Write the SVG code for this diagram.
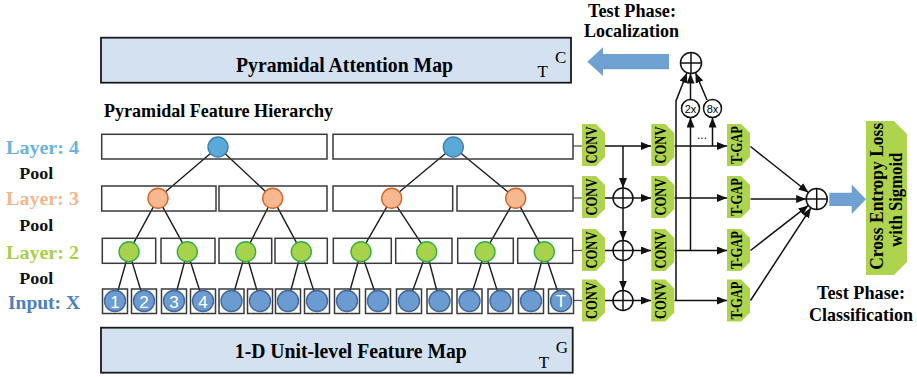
<svg xmlns="http://www.w3.org/2000/svg" xmlns:xlink="http://www.w3.org/1999/xlink" width="917" height="377" viewBox="0 0 917 377">
<style>
.t{font-family:"Liberation Serif","Times New Roman",serif;font-weight:bold;}
.r{font-family:"Liberation Serif","Times New Roman",serif;}
.s{font-family:"Liberation Sans",Arial,sans-serif;}
.box{fill:none;stroke:#3a3a3a;stroke-width:1.5;}
.map{fill:#d3e1f1;stroke:#1a1a1a;stroke-width:1.8;}
.tl{stroke:#1a1a1a;stroke-width:1.4;fill:none;}
.ln{stroke:#111;stroke-width:1.5;fill:none;}
.ar{stroke:#111;stroke-width:1.5;fill:none;marker-end:url(#ah);}
.gl{stroke:#555;stroke-width:1.3;}
.c4{fill:#5aaad8;stroke:#3b7fb4;stroke-width:1.4;}
.c3{fill:#f7b88f;stroke:#d0642a;stroke-width:1.4;}
.c2{fill:#a8d24b;stroke:#2fb041;stroke-width:1.4;}
.c1{fill:#6b9bd0;stroke:#41699c;stroke-width:1.4;}
.grn{fill:#aed44e;}
.pl{fill:#fff;stroke:#111;stroke-width:1.5;}
.blue{fill:#6fa1d2;}
.num{font-family:"Liberation Sans",Arial,sans-serif;fill:#fff;font-size:17px;text-anchor:middle;}
.cv{font-family:"Liberation Serif","Times New Roman",serif;font-weight:bold;font-size:17px;text-anchor:middle;}
</style>
<defs>
<marker id="ah" viewBox="0 0 10 8" refX="10" refY="4" markerWidth="10" markerHeight="8" markerUnits="userSpaceOnUse" orient="auto"><path d="M0,0 L10,4 L0,8 z" fill="#111"/></marker>
<path id="tag" d="M0,0 H14 L23,9 V33 L14,42 H0 Z"/>
</defs>

<!-- maps -->
<g id="attentionMap">
<rect class="map" x="101" y="37.7" width="470" height="45"/>
<text class="t" x="344.5" y="72" font-size="20.5" text-anchor="middle" textLength="217" lengthAdjust="spacingAndGlyphs">Pyramidal Attention Map</text>
<text class="r" x="542.7" y="77" font-size="17" text-anchor="middle">T</text>
<text class="r" x="560.7" y="63" font-size="17" text-anchor="middle">C</text>
</g>
<g id="featureMap">
<rect class="map" x="101" y="327.7" width="471.7" height="45"/>
<text class="t" x="350.8" y="358" font-size="20.5" text-anchor="middle" textLength="232" lengthAdjust="spacingAndGlyphs">1-D Unit-level Feature Map</text>
<text class="r" x="544" y="368" font-size="17" text-anchor="middle">T</text>
<text class="r" x="562" y="353" font-size="17" text-anchor="middle">G</text>
</g>
<text class="t" x="104" y="117" font-size="19.5" textLength="229" lengthAdjust="spacingAndGlyphs">Pyramidal Feature Hierarchy</text>

<!-- left labels -->
<g id="labels" class="t" text-anchor="middle">
<text x="42.5" y="154" font-size="19" fill="#6bb3df" textLength="73" lengthAdjust="spacingAndGlyphs">Layer: 4</text>
<text x="36.3" y="179" font-size="17.5" fill="#111" textLength="34" lengthAdjust="spacingAndGlyphs">Pool</text>
<text x="42.5" y="205" font-size="19" fill="#f6b68c" textLength="73" lengthAdjust="spacingAndGlyphs">Layer: 3</text>
<text x="36.3" y="231" font-size="17.5" fill="#111" textLength="34" lengthAdjust="spacingAndGlyphs">Pool</text>
<text x="42.5" y="258.5" font-size="19" fill="#a7cf48" textLength="73" lengthAdjust="spacingAndGlyphs">Layer: 2</text>
<text x="36.3" y="284" font-size="17.5" fill="#111" textLength="34" lengthAdjust="spacingAndGlyphs">Pool</text>
<text x="44" y="309" font-size="19" fill="#4a80c2" textLength="72" lengthAdjust="spacingAndGlyphs">Input: X</text>
</g>

<!-- connectors -->
<g id="connectors">
<g class="tl">
<line x1="218" y1="147" x2="158" y2="198.3"/><line x1="218" y1="147" x2="272.7" y2="198.3"/>
<line x1="453.3" y1="147" x2="391.7" y2="198.3"/><line x1="453.3" y1="147" x2="515.7" y2="198.3"/>
<line x1="158" y1="198.3" x2="129" y2="251.7"/><line x1="158" y1="198.3" x2="187.3" y2="251.7"/>
<line x1="272.7" y1="198.3" x2="245.7" y2="251.7"/><line x1="272.7" y1="198.3" x2="301.3" y2="251.7"/>
<line x1="391.7" y1="198.3" x2="361" y2="251.7"/><line x1="391.7" y1="198.3" x2="426.7" y2="251.7"/>
<line x1="515.7" y1="198.3" x2="485" y2="251.7"/><line x1="515.7" y1="198.3" x2="544.3" y2="251.7"/>
<line x1="129" y1="251.7" x2="115" y2="301"/><line x1="129" y1="251.7" x2="144" y2="301"/>
<line x1="187.3" y1="251.7" x2="174" y2="301"/><line x1="187.3" y1="251.7" x2="203" y2="301"/>
<line x1="245.7" y1="251.7" x2="231.5" y2="301"/><line x1="245.7" y1="251.7" x2="260" y2="301"/>
<line x1="301.3" y1="251.7" x2="288" y2="301"/><line x1="301.3" y1="251.7" x2="317" y2="301"/>
<line x1="361" y1="251.7" x2="347" y2="301"/><line x1="361" y1="251.7" x2="378" y2="301"/>
<line x1="426.7" y1="251.7" x2="409" y2="301"/><line x1="426.7" y1="251.7" x2="439.5" y2="301"/>
<line x1="485" y1="251.7" x2="469.5" y2="301"/><line x1="485" y1="251.7" x2="500.5" y2="301"/>
<line x1="544.3" y1="251.7" x2="531" y2="301"/><line x1="544.3" y1="251.7" x2="561" y2="301"/>
</g>
<g class="gl">
<line x1="573" y1="146" x2="582" y2="146"/>
<line x1="573" y1="198" x2="582" y2="198"/>
<line x1="573" y1="250.5" x2="582" y2="250.5"/>
<line x1="573" y1="300.5" x2="582" y2="300.5"/>
</g>
<line class="ar" x1="605" y1="146" x2="651" y2="146"/>
<line class="ar" x1="605" y1="198" x2="651" y2="198"/>
<line class="ar" x1="605" y1="250.5" x2="651" y2="250.5"/>
<line class="ar" x1="605" y1="300.5" x2="651" y2="300.5"/>
<line class="ar" x1="623" y1="146" x2="623" y2="188"/>
<line class="ar" x1="623" y1="208" x2="623" y2="240.5"/>
<line class="ar" x1="623" y1="260.5" x2="623" y2="290.5"/>
<line class="ar" x1="674.5" y1="146" x2="727" y2="146"/>
<line class="ar" x1="674.5" y1="198" x2="727" y2="198"/>
<line class="ar" x1="674.5" y1="250.5" x2="727" y2="250.5"/>
<line class="ar" x1="674.5" y1="300.5" x2="727" y2="300.5"/>
<polyline class="ar" points="676,300.5 676,101 687,72.8"/>
<line class="ar" x1="690.5" y1="250.5" x2="690.5" y2="117.5"/>
<line class="ar" x1="690.5" y1="99.5" x2="690.5" y2="73.5"/>
<line class="ar" x1="712.5" y1="146" x2="712.5" y2="117.5"/>
<line class="ar" x1="707" y1="100" x2="695.5" y2="72.8"/>
<line class="ar" x1="750.5" y1="146.5" x2="808.5" y2="192.5"/>
<line class="ar" x1="750.5" y1="199" x2="806.2" y2="199"/>
<line class="ar" x1="750.5" y1="250.5" x2="808.4" y2="205.4"/>
<line class="ar" x1="750.5" y1="300.5" x2="811" y2="207.8"/>
</g>

<!-- pyramid nodes -->
<g id="L4a"><rect class="box" x="101.7" y="134.3" width="225.3" height="24.7"/><circle class="c4" cx="218" cy="147" r="10"/></g>
<g id="L4b"><rect class="box" x="333" y="134.3" width="240" height="24.7"/><circle class="c4" cx="453.3" cy="147" r="10"/></g>
<g id="L3a"><rect class="box" x="101.7" y="186" width="114.3" height="25"/><circle class="c3" cx="158" cy="198.3" r="10"/></g>
<g id="L3b"><rect class="box" x="219" y="186" width="108" height="25"/><circle class="c3" cx="272.7" cy="198.3" r="10"/></g>
<g id="L3c"><rect class="box" x="333" y="186" width="119.7" height="25"/><circle class="c3" cx="391.7" cy="198.3" r="10"/></g>
<g id="L3d"><rect class="box" x="457" y="186" width="116" height="25"/><circle class="c3" cx="515.7" cy="198.3" r="10"/></g>
<g id="L2a"><rect class="box" x="102.3" y="238.3" width="53.4" height="25"/><circle class="c2" cx="129" cy="251.7" r="10"/></g>
<g id="L2b"><rect class="box" x="161" y="238.3" width="54" height="25"/><circle class="c2" cx="187.3" cy="251.7" r="10"/></g>
<g id="L2c"><rect class="box" x="219" y="238.3" width="52.7" height="25"/><circle class="c2" cx="245.7" cy="251.7" r="10"/></g>
<g id="L2d"><rect class="box" x="275" y="238.3" width="52.3" height="25"/><circle class="c2" cx="301.3" cy="251.7" r="10"/></g>
<g id="L2e"><rect class="box" x="333.3" y="238.3" width="58" height="25"/><circle class="c2" cx="361" cy="251.7" r="10"/></g>
<g id="L2f"><rect class="box" x="395.7" y="238.3" width="56.3" height="25"/><circle class="c2" cx="426.7" cy="251.7" r="10"/></g>
<g id="L2g"><rect class="box" x="457.7" y="238.3" width="55.6" height="25"/><circle class="c2" cx="485" cy="251.7" r="10"/></g>
<g id="L2h"><rect class="box" x="517.7" y="238.3" width="55" height="25"/><circle class="c2" cx="544.3" cy="251.7" r="10"/></g>

<g id="X1"><rect class="box" x="102.5" y="289" width="25" height="24.5"/><circle class="c1" cx="115" cy="301" r="10.5"/><text class="num" x="115" y="307.5">1</text></g>
<g id="X2"><rect class="box" x="131.5" y="289" width="25" height="24.5"/><circle class="c1" cx="144" cy="301" r="10.5"/><text class="num" x="144" y="307.5">2</text></g>
<g id="X3"><rect class="box" x="161.5" y="289" width="25" height="24.5"/><circle class="c1" cx="174" cy="301" r="10.5"/><text class="num" x="174" y="307.5">3</text></g>
<g id="X4"><rect class="box" x="190.5" y="289" width="25" height="24.5"/><circle class="c1" cx="203" cy="301" r="10.5"/><text class="num" x="203" y="307.5">4</text></g>
<g id="X5"><rect class="box" x="219" y="289" width="25" height="24.5"/><circle class="c1" cx="231.5" cy="301" r="10.5"/></g>
<g id="X6"><rect class="box" x="247.5" y="289" width="25" height="24.5"/><circle class="c1" cx="260" cy="301" r="10.5"/></g>
<g id="X7"><rect class="box" x="275.5" y="289" width="25" height="24.5"/><circle class="c1" cx="288" cy="301" r="10.5"/></g>
<g id="X8"><rect class="box" x="304.5" y="289" width="25" height="24.5"/><circle class="c1" cx="317" cy="301" r="10.5"/></g>
<g id="X9"><rect class="box" x="334.5" y="289" width="25" height="24.5"/><circle class="c1" cx="347" cy="301" r="10.5"/></g>
<g id="X10"><rect class="box" x="365.5" y="289" width="25" height="24.5"/><circle class="c1" cx="378" cy="301" r="10.5"/></g>
<g id="X11"><rect class="box" x="396.5" y="289" width="25" height="24.5"/><circle class="c1" cx="409" cy="301" r="10.5"/></g>
<g id="X12"><rect class="box" x="427" y="289" width="25" height="24.5"/><circle class="c1" cx="439.5" cy="301" r="10.5"/></g>
<g id="X13"><rect class="box" x="457" y="289" width="25" height="24.5"/><circle class="c1" cx="469.5" cy="301" r="10.5"/></g>
<g id="X14"><rect class="box" x="488" y="289" width="25" height="24.5"/><circle class="c1" cx="500.5" cy="301" r="10.5"/></g>
<g id="X15"><rect class="box" x="518.5" y="289" width="25" height="24.5"/><circle class="c1" cx="531" cy="301" r="10.5"/></g>
<g id="X16"><rect class="box" x="548.5" y="289" width="25" height="24.5"/><circle class="c1" cx="561" cy="301" r="10.5"/><text class="num" x="561" y="306.5" font-size="15">T</text></g>

<!-- CONV column 1 -->
<g id="conv1a"><use href="#tag" class="grn" x="582" y="124"/><text class="cv" transform="translate(597,145) rotate(-90)" textLength="37" lengthAdjust="spacingAndGlyphs">CONV</text></g>
<g id="conv1b"><use href="#tag" class="grn" x="582" y="176"/><text class="cv" transform="translate(597,197) rotate(-90)" textLength="37" lengthAdjust="spacingAndGlyphs">CONV</text></g>
<g id="conv1c"><use href="#tag" class="grn" x="582" y="229"/><text class="cv" transform="translate(597,250) rotate(-90)" textLength="37" lengthAdjust="spacingAndGlyphs">CONV</text></g>
<g id="conv1d"><use href="#tag" class="grn" x="582" y="279.5"/><text class="cv" transform="translate(597,300.5) rotate(-90)" textLength="37" lengthAdjust="spacingAndGlyphs">CONV</text></g>
<!-- plus column -->
<g id="plus1"><circle class="pl" cx="623" cy="198" r="10"/><path class="ln" d="M613,198 H633 M623,188 V208"/></g>
<g id="plus2"><circle class="pl" cx="623" cy="250.5" r="10"/><path class="ln" d="M613,250.5 H633 M623,240.5 V260.5"/></g>
<g id="plus3"><circle class="pl" cx="623" cy="300.5" r="10"/><path class="ln" d="M613,300.5 H633 M623,290.5 V310.5"/></g>
<!-- CONV column 2 -->
<g id="conv2a"><use href="#tag" class="grn" x="651.3" y="124"/><text class="cv" transform="translate(666,145) rotate(-90)" textLength="37" lengthAdjust="spacingAndGlyphs">CONV</text></g>
<g id="conv2b"><use href="#tag" class="grn" x="651.3" y="176"/><text class="cv" transform="translate(666,197) rotate(-90)" textLength="37" lengthAdjust="spacingAndGlyphs">CONV</text></g>
<g id="conv2c"><use href="#tag" class="grn" x="651.3" y="229"/><text class="cv" transform="translate(666,250) rotate(-90)" textLength="37" lengthAdjust="spacingAndGlyphs">CONV</text></g>
<g id="conv2d"><use href="#tag" class="grn" x="651.3" y="279.5"/><text class="cv" transform="translate(666,300.5) rotate(-90)" textLength="37" lengthAdjust="spacingAndGlyphs">CONV</text></g>
<!-- T-GAP column -->
<g id="tgapA"><use href="#tag" class="grn" x="727" y="124"/><text class="cv" transform="translate(742,145) rotate(-90)" textLength="38" lengthAdjust="spacingAndGlyphs">T-GAP</text></g>
<g id="tgapB"><use href="#tag" class="grn" x="727" y="176"/><text class="cv" transform="translate(742,197) rotate(-90)" textLength="38" lengthAdjust="spacingAndGlyphs">T-GAP</text></g>
<g id="tgapC"><use href="#tag" class="grn" x="727" y="229"/><text class="cv" transform="translate(742,250) rotate(-90)" textLength="38" lengthAdjust="spacingAndGlyphs">T-GAP</text></g>
<g id="tgapD"><use href="#tag" class="grn" x="727" y="279.5"/><text class="cv" transform="translate(742,300.5) rotate(-90)" textLength="38" lengthAdjust="spacingAndGlyphs">T-GAP</text></g>

<!-- localization -->
<g id="up2x"><circle class="pl" cx="690.5" cy="108.5" r="9"/><text class="s" x="690.5" y="112.5" font-size="11" text-anchor="middle">2x</text></g>
<g id="up8x"><circle class="pl" cx="712.5" cy="108.5" r="9"/><text class="s" x="712.5" y="112.5" font-size="11" text-anchor="middle">8x</text></g>
<text class="s" x="702" y="139" font-size="12" text-anchor="middle">...</text>
<g id="plusTop"><circle class="pl" cx="691" cy="63" r="10.5"/><path class="ln" d="M680.5,63 H701.5 M691,52.5 V73.5"/></g>
<g id="locArrow"><polygon class="blue" points="669,54 603,54 603,47.3 587.3,61.7 603,76 603,69.3 669,69.3"/></g>
<g id="locText" class="t" text-anchor="middle">
<text x="632" y="16.5" font-size="18.5" textLength="88" lengthAdjust="spacingAndGlyphs">Test Phase:</text>
<text x="631.5" y="37" font-size="19" textLength="95" lengthAdjust="spacingAndGlyphs">Localization</text>
</g>

<!-- classification -->
<g id="plusCls"><circle class="pl" cx="816.7" cy="199" r="10.5"/><path class="ln" d="M806.2,199 H827.2 M816.7,188.5 V209.5"/></g>
<g id="clsArrow"><polygon class="blue" points="829.3,192.7 851.7,192.7 851.7,184.5 866,199.3 851.7,214 851.7,206 829.3,206"/></g>
<g id="loss"><path class="grn" d="M866,121 H894 L907,134 V262 L894,275 H866 Z"/>
<text class="t" font-size="19.5" text-anchor="middle" transform="translate(883,196.3) rotate(-90)" textLength="147" lengthAdjust="spacingAndGlyphs">Cross Entropy Loss</text>
<text class="t" font-size="19.5" text-anchor="middle" transform="translate(902,199.7) rotate(-90)" textLength="94" lengthAdjust="spacingAndGlyphs">with Sigmoid</text>
</g>
<g id="clsText" class="t" text-anchor="middle">
<text x="861" y="299" font-size="18.5" textLength="88" lengthAdjust="spacingAndGlyphs">Test Phase:</text>
<text x="861" y="321" font-size="19" textLength="104" lengthAdjust="spacingAndGlyphs">Classification</text>
</g>
</svg>
